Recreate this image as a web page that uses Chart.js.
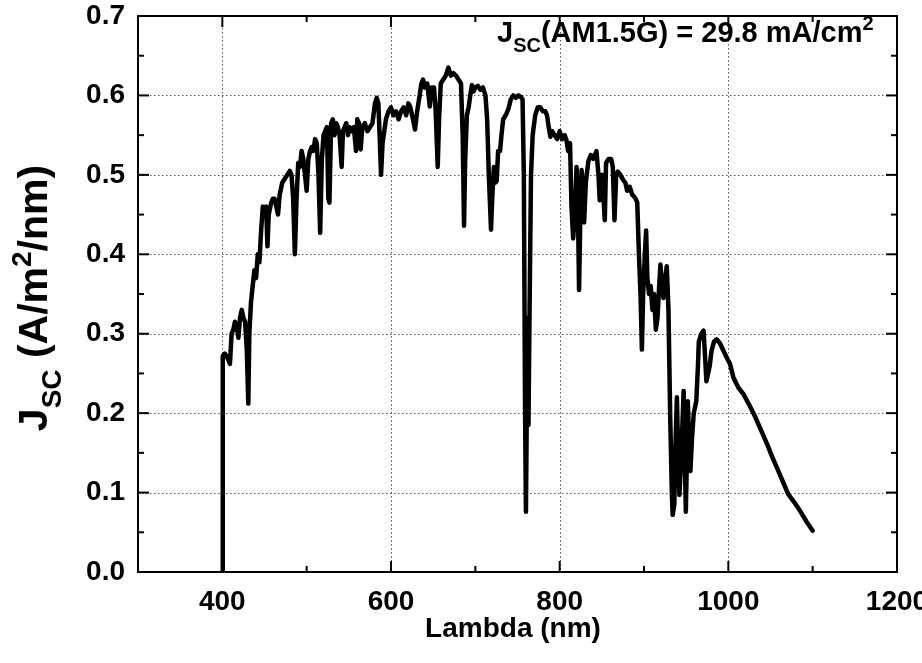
<!DOCTYPE html>
<html>
<head>
<meta charset="utf-8">
<script src="https://cdn.jsdelivr.net/npm/chart.js@4.4.0/dist/chart.umd.min.js"></script>
<style>
  html, body { margin: 0; padding: 0; background: #fff; }
  #wrap { width: 922px; height: 663px; }
</style>
</head>
<body>
<div id="wrap"><canvas id="chart" width="922" height="663"></canvas></div>
<script>
// spectrum (nm, A/m^2/nm)
const wavelength = [
    400, 400.5, 403, 406, 409, 411, 413, 415, 417, 419, 421, 423, 425, 427, 429, 430.8, 432, 434, 436, 438,
    440, 442, 444, 446, 448, 450, 452, 453.5, 455, 458, 460, 462, 464, 466, 468, 471, 474, 477, 480, 482,
    484, 486, 488, 490, 492, 494, 496, 498, 500, 502, 504, 506, 508, 510, 512, 514, 516, 518, 520, 522,
    524, 525.7, 527, 529, 531, 533, 535, 537, 539, 541.5, 543, 545, 547, 549, 551, 553, 556, 558.5, 560, 562,
    564, 566, 569, 572, 575, 578, 581, 583, 585, 586.5, 588.2, 590, 592, 594, 597, 600, 603, 606, 609, 612,
    615, 618, 620.6, 623, 626, 628.5, 631, 634, 636, 638, 640, 643, 646, 648, 651, 653, 655.4, 657, 659, 662,
    665, 668, 671, 674, 677, 680, 683, 685, 686.6, 688, 690, 692, 694, 696, 698, 700, 703, 706, 709, 712,
    714, 716, 718.6, 720, 722, 723.5, 725.3, 727, 729.3, 731, 733, 736, 739.2, 742, 745, 748, 751, 754, 756, 757.5,
    759, 760, 761, 762, 763, 764.5, 766, 768, 771, 774, 777, 780, 783, 785, 787, 789, 791, 794, 797, 800,
    803, 806, 808, 810, 812.3, 814, 816, 818, 820, 821.5, 823, 824.5, 826, 828, 829, 831, 834, 837, 840, 843.6,
    846, 847.5, 850, 852, 853.5, 855, 858, 861, 863, 865, 867, 869, 872, 875, 878, 880, 883, 886, 888, 890,
    892, 894, 896, 897.5, 899, 901, 902.5, 904, 906, 908, 910, 912, 914, 916, 918, 919.5, 921, 923, 925, 927,
    929, 931, 933, 934, 936, 937, 939, 940.5, 942, 943.5, 945, 947, 948.5, 949.6, 951, 952, 953.5, 955, 957, 959,
    962, 964, 965, 968, 970.6, 972.5, 974, 976, 978, 980, 983, 986, 990, 994, 998, 1002, 1006, 1012, 1018, 1025,
    1032, 1039, 1046, 1052, 1059, 1065, 1071, 1078, 1085, 1093, 1100
];
const jsc = [
    0, 0.272, 0.275, 0.27, 0.262, 0.30, 0.305, 0.315, 0.31, 0.295, 0.32, 0.33, 0.32, 0.315, 0.28, 0.212, 0.30, 0.34, 0.36, 0.38,
    0.37, 0.40, 0.39, 0.43, 0.46, 0.455, 0.46, 0.41, 0.45, 0.465, 0.47, 0.47, 0.46, 0.45, 0.475, 0.49, 0.495, 0.50, 0.505, 0.50,
    0.47, 0.40, 0.47, 0.515, 0.51, 0.53, 0.52, 0.50, 0.48, 0.52, 0.53, 0.535, 0.53, 0.545, 0.54, 0.50, 0.427, 0.52, 0.55, 0.555,
    0.56, 0.47, 0.465, 0.565, 0.57, 0.55, 0.565, 0.56, 0.55, 0.51, 0.555, 0.56, 0.565, 0.55, 0.56, 0.555, 0.56, 0.53, 0.57, 0.565,
    0.532, 0.56, 0.565, 0.555, 0.56, 0.565, 0.59, 0.597, 0.59, 0.55, 0.50, 0.54, 0.555, 0.57, 0.58, 0.585, 0.575, 0.58, 0.57, 0.58,
    0.585, 0.575, 0.59, 0.585, 0.57, 0.557, 0.58, 0.60, 0.615, 0.62, 0.61, 0.615, 0.586, 0.61, 0.61, 0.58, 0.51, 0.57, 0.615, 0.62,
    0.625, 0.635, 0.625, 0.628, 0.625, 0.62, 0.615, 0.55, 0.436, 0.52, 0.575, 0.585, 0.60, 0.613, 0.605, 0.61, 0.612, 0.607, 0.61, 0.60,
    0.57, 0.50, 0.431, 0.47, 0.51, 0.49, 0.492, 0.53, 0.53, 0.55, 0.57, 0.575, 0.583, 0.595, 0.60, 0.597, 0.60, 0.598, 0.595, 0.50,
    0.20, 0.076, 0.20, 0.32, 0.185, 0.35, 0.50, 0.55, 0.575, 0.585, 0.585, 0.58, 0.58, 0.575, 0.56, 0.548, 0.555, 0.55, 0.545, 0.555,
    0.545, 0.55, 0.544, 0.53, 0.54, 0.46, 0.42, 0.45, 0.51, 0.47, 0.355, 0.45, 0.506, 0.48, 0.44, 0.49, 0.517, 0.525, 0.52, 0.53,
    0.50, 0.468, 0.50, 0.47, 0.443, 0.515, 0.52, 0.52, 0.51, 0.443, 0.50, 0.504, 0.50, 0.494, 0.49, 0.48, 0.485, 0.475, 0.473, 0.47,
    0.465, 0.40, 0.345, 0.28, 0.35, 0.40, 0.43, 0.37, 0.35, 0.36, 0.33, 0.35, 0.305, 0.32, 0.36, 0.387, 0.36, 0.345, 0.37, 0.385,
    0.33, 0.20, 0.10, 0.072, 0.085, 0.15, 0.22, 0.15, 0.097, 0.13, 0.17, 0.228, 0.14, 0.076, 0.15, 0.215, 0.16, 0.127, 0.17, 0.20,
    0.215, 0.26, 0.29, 0.30, 0.304, 0.27, 0.24, 0.25, 0.26, 0.278, 0.29, 0.293, 0.288, 0.279, 0.27, 0.262, 0.245, 0.232, 0.224, 0.21,
    0.195, 0.178, 0.161, 0.145, 0.128, 0.113, 0.098, 0.088, 0.077, 0.063, 0.052
];

const xTicks = [400, 600, 800, 1000, 1200];
const yTicks = [0, 0.1, 0.2, 0.3, 0.4, 0.5, 0.6, 0.7];

const xTitle = 'Lambda (nm)';
const yTitleParts = [
    { text: 'J' }, { text: 'SC', sub: true }, { text: ' (A/m' }, { text: '2', sup: true }, { text: '/nm)' }
];
const noteParts = [
    { text: 'J' }, { text: 'SC', sub: true }, { text: '(AM1.5G) = 29.8 mA/cm' }, { text: '2', sup: true }
];

const FONT = '"Liberation Sans", Arial, Helvetica, sans-serif';

function drawRich(ctx, parts, x, y, size, align) {
    const small = Math.round(size * 0.68);
    const widths = parts.map(p => {
        ctx.font = `bold ${p.sub || p.sup ? small : size}px ${FONT}`;
        return ctx.measureText(p.text).width;
    });
    const total = widths.reduce((a, b) => a + b, 0);
    let cx = align === 'center' ? x - total / 2 : x;
    ctx.textBaseline = 'alphabetic';
    ctx.textAlign = 'left';
    parts.forEach((p, i) => {
        ctx.font = `bold ${p.sub || p.sup ? small : size}px ${FONT}`;
        let dy = 0;
        if (p.sub) dy = size * 0.34;
        if (p.sup) dy = -size * 0.4;
        ctx.fillText(p.text, cx, y + dy);
        cx += widths[i];
    });
}

const framePlugin = {
    id: 'frame',
    beforeDatasetsDraw(chart) {
        const { ctx, chartArea: a, scales } = chart;
        ctx.save();
        ctx.strokeStyle = '#555';
        ctx.lineWidth = 1;
        ctx.setLineDash([1.5, 2.5]);
        xTicks.forEach(v => {
            const px = Math.round(scales.x.getPixelForValue(v)) + 0.5;
            ctx.beginPath(); ctx.moveTo(px, a.top); ctx.lineTo(px, a.bottom); ctx.stroke();
        });
        yTicks.forEach(v => {
            const py = Math.round(scales.y.getPixelForValue(v)) + 0.5;
            ctx.beginPath(); ctx.moveTo(a.left, py); ctx.lineTo(a.right, py); ctx.stroke();
        });
        ctx.restore();
    },
    afterDraw(chart) {
        const { ctx, chartArea: a, scales } = chart;
        ctx.save();
        ctx.strokeStyle = '#000';
        ctx.fillStyle = '#000';
        ctx.lineWidth = 2;
        ctx.strokeRect(a.left, a.top, a.right - a.left, a.bottom - a.top);

        // inward ticks on all four sides, minor ones halfway
        const major = 11, minor = 6;
        const xMinor = xTicks.slice(1).map((v, i) => (v + xTicks[i]) / 2);
        const yMinor = yTicks.slice(1).map((v, i) => (v + yTicks[i]) / 2);
        const tick = (x1, y1, x2, y2) => { ctx.beginPath(); ctx.moveTo(x1, y1); ctx.lineTo(x2, y2); ctx.stroke(); };
        [[xTicks, major], [xMinor, minor]].forEach(([vals, len]) => vals.forEach(v => {
            const px = scales.x.getPixelForValue(v);
            tick(px, a.bottom, px, a.bottom - len);
            tick(px, a.top, px, a.top + len);
        }));
        [[yTicks, major], [yMinor, minor]].forEach(([vals, len]) => vals.forEach(v => {
            const py = scales.y.getPixelForValue(v);
            tick(a.left, py, a.left + len, py);
            tick(a.right, py, a.right - len, py);
        }));

        // axis titles and annotation
        drawRich(ctx, [{ text: xTitle }], 513, 637, 28, 'center');
        ctx.save();
        ctx.translate(47, 298);
        ctx.rotate(-Math.PI / 2);
        drawRich(ctx, yTitleParts, 0, 0, 41, 'center');
        ctx.restore();
        drawRich(ctx, noteParts, 497, 42, 29, 'left');
        ctx.restore();
    }
};

const tickFont = { family: FONT, size: 28, weight: 'bold' };

new Chart(document.getElementById('chart'), {
    type: 'line',
    data: {
        datasets: [{
            data: wavelength.map((w, i) => ({ x: w, y: jsc[i] })),
            borderColor: '#000',
            borderWidth: 4.5,
            borderJoinStyle: 'round',
            borderCapStyle: 'round',
            pointRadius: 0,
            tension: 0,
            fill: false
        }]
    },
    options: {
        responsive: false,
        animation: false,
        layout: { padding: { left: 0, right: 25, top: 16, bottom: 0 } },
        plugins: { legend: { display: false }, tooltip: { enabled: false } },
        scales: {
            x: {
                type: 'linear',
                min: 300,
                max: 1200,
                afterBuildTicks: (scale) => { scale.ticks = xTicks.map(v => ({ value: v })); },
                afterFit: (scale) => { scale.height = 91; scale.paddingLeft = 0; scale.paddingRight = 0; },
                grid: { display: false, drawTicks: false },
                border: { display: false },
                ticks: { color: '#000', font: tickFont, padding: 13, maxRotation: 0, autoSkip: false,
                         callback: (v) => String(v) }
            },
            y: {
                type: 'linear',
                min: 0,
                max: 0.7,
                afterBuildTicks: (scale) => { scale.ticks = yTicks.map(v => ({ value: v })); },
                afterFit: (scale) => { scale.width = 138; scale.paddingTop = 0; scale.paddingBottom = 0; },
                grid: { display: false, drawTicks: false },
                border: { display: false },
                ticks: { color: '#000', font: tickFont, padding: 13, autoSkip: false,
                         callback: (v) => Number(v).toFixed(1) }
            }
        }
    },
    plugins: [framePlugin]
});
</script>
</body>
</html>
